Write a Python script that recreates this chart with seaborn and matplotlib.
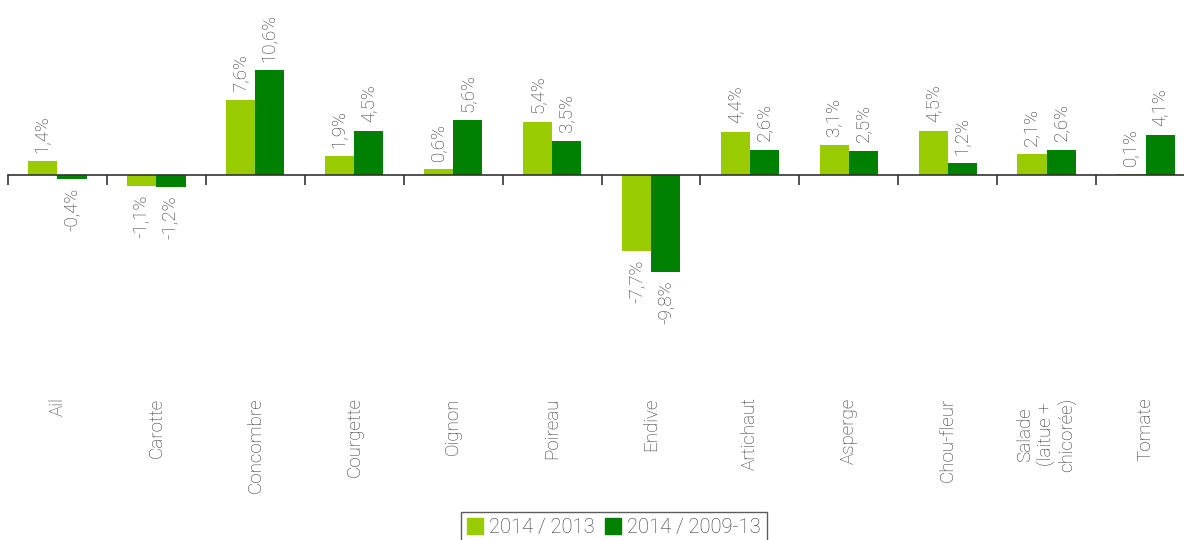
import numpy as np
import matplotlib.pyplot as plt
import seaborn as sns
import pandas as pd

legumes = ['Ail', 'Carotte', 'Concombre', 'Courgette', 'Oignon', 'Poireau', 'Endive',
           'Artichaut', 'Asperge', 'Chou-fleur', 'Salade\n(laitue +\nchicorée)', 'Tomate']
series = ['2014 / 2013', '2014 / 2009-13']
v_2013 = [1.4, -1.1, 7.6, 1.9, 0.6, 5.4, -7.7, 4.4, 3.1, 4.5, 2.1, 0.1]
v_0913 = [-0.4, -1.2, 10.6, 4.5, 5.6, 3.5, -9.8, 2.6, 2.5, 1.2, 2.6, 4.1]

df = pd.DataFrame({
    'legume': legumes * 2,
    'serie': [series[0]] * len(legumes) + [series[1]] * len(legumes),
    'valeur': v_2013 + v_0913,
})

sns.set_style("white")
plt.rcParams['font.family'] = ['Roboto', 'DejaVu Sans']
plt.rcParams['font.weight'] = 'light'
txt = '#333333'

fig = plt.figure(figsize=(11.84, 5.4), dpi=100)
W, H = 1184, 540
ax = fig.add_axes([8 / W, 1 - 390 / H, 1187 / W, 380 / H])

sns.barplot(data=df, x='legume', y='valeur', hue='serie', palette=['#99cc00', '#008000'],
            width=0.59, saturation=1, linewidth=0, ax=ax, legend=False)

ax.set_xlim(-0.5, len(legumes) - 0.5)
ax.set_ylim(-21.7, 16.7)

for c in ax.containers:
    labs = [f"{b.get_height():.1f}%".replace('.', ',') for b in c]
    ax.bar_label(c, labels=labs, rotation=90, padding=6, fontsize=13.5, color=txt)

for s in ['top', 'right', 'left']:
    ax.spines[s].set_visible(False)
ax.spines['bottom'].set_position(('data', 0))
ax.spines['bottom'].set_color(txt)
ax.spines['bottom'].set_linewidth(1.2)
ax.set_yticks([])
ax.set_xlabel('')
ax.set_ylabel('')
ax.set_xticks(np.arange(-0.5, len(legumes)), minor=True)
ax.tick_params(axis='x', which='minor', length=7, width=1.2, color=txt, direction='out', bottom=True)
ax.tick_params(axis='x', which='major', length=0, pad=160, labelsize=13.5, labelcolor=txt)
for lab in ax.get_xticklabels():
    lab.set_rotation(90)
    lab.set_ha('center')
    lab.set_va('top')
    lab.set_multialignment('center')

handles = [plt.Rectangle((0, 0), 1, 1, color=col) for col in ['#99cc00', '#008000']]
leg = fig.legend(handles, series, loc='upper center', bbox_to_anchor=(614 / W, 1 - 512 / H),
                 ncol=2, fontsize=14.5, frameon=True, fancybox=False, edgecolor=txt,
                 handlelength=0.8, handleheight=0.8, handletextpad=0.3, columnspacing=0.5,
                 borderpad=0.3, borderaxespad=0)
leg.get_frame().set_linewidth(1.0)
for t in leg.get_texts():
    t.set_color(txt)

fig.savefig('out.png', dpi=100)
